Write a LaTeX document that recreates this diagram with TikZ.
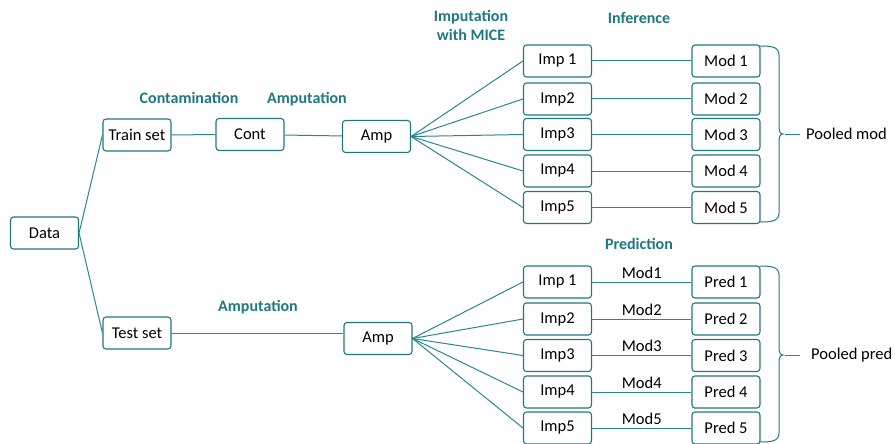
\documentclass[tikz,border=0pt]{standalone}
\usepackage{fontspec}
\setmainfont{Carlito}
\definecolor{tealc}{RGB}{31,120,128}
\definecolor{linec}{RGB}{40,135,142}
\tikzset{
  box/.style={draw=tealc, line width=1.1pt, rounded corners=3pt, minimum width=68pt, minimum height=32pt, inner sep=0pt, font=\fontsize{16.5}{19}\selectfont, text=black},
  head/.style={font=\bfseries\fontsize{16}{19}\selectfont, text=tealc, align=center},
  lbl/.style={font=\fontsize{16.5}{19}\selectfont, text=black},
  conn/.style={draw=linec, line width=1pt},
  brc/.style={draw=tealc, line width=1pt}
}
\begin{document}
\begin{tikzpicture}[x=1pt,y=-1pt]
\useasboundingbox (0,0) rectangle (895,444);
% nodes
\node[box] (data) at (44.5,233) {Data};
\node[box] (train) at (137,135) {Train set};
\node[box] (cont) at (250,134.5) {Cont};
\node[box] (amp1) at (376.5,136.5) {Amp};
\node[box] (test) at (137,333) {Test set};
\node[box] (amp2) at (378,338.5) {Amp};
\foreach \i/\y/\t in {1/61/Imp 1,2/99/Imp2,3/134.5/Imp3,4/171/Imp4,5/207.5/Imp5}{
  \node[box] (ia\i) at (557.5,\y) {\t};
  \node[box] (ma\i) at (726,\y) {Mod \i};
}
\foreach \i/\y/\t in {1/282/Imp 1,2/319/Imp2,3/355.5/Imp3,4/392/Imp4,5/428/Imp5}{
  \node[box] (ib\i) at (557.5,\y) {\t};
  \node[box] (pb\i) at (726,\y) {Pred \i};
}
% headings
\node[head] (hcont) at (189,98) {Contamination};
\node[head] (hamp1) at (307,99) {Amputation};
\node[head, font=\bfseries\fontsize{16}{19}\selectfont] (himp) at (471,25) {Imputation\\with MICE};
\node[head] (hinf) at (639,18) {Inference};
\node[head] (hpred) at (639,244) {Prediction};
\node[head] (hamp2) at (258,307) {Amputation};
% connectors
\draw[conn] (data.east) -- (train.west);
\draw[conn] (data.east) -- (test.west);
\draw[conn] (train) -- (cont);
\draw[conn] (cont) -- (amp1);
\draw[conn] (test.east) -- (test.east -| amp2.west);
\foreach \i in {1,...,5}{
  \draw[conn] (amp1.east) -- (ia\i.west);
  \draw[conn] (ia\i) -- (ma\i);
  \draw[conn] (amp2.east) -- (ib\i.west);
  \draw[conn] (ib\i) -- node[lbl, above=0pt] (ml\i) {Mod\i} (pb\i);
}
% braces
\draw[brc] (760,46) .. controls (772,46) and (779,47) .. (779,55) -- (779,126)
  .. controls (779,131) and (780,134) .. (783,134)
  .. controls (780,134) and (779,137) .. (779,142) -- (779,213)
  .. controls (779,221) and (772,222) .. (760,222);
\draw[brc] (760,266) .. controls (772,266) and (779,267) .. (779,275) -- (779,347)
  .. controls (779,352) and (780,355) .. (783,355)
  .. controls (780,355) and (779,358) .. (779,363) -- (779,433)
  .. controls (779,441) and (772,442) .. (760,442);
\coordinate (tipa) at (785,134);
\coordinate (tipb) at (785,355);
\node[lbl, anchor=west, inner sep=0pt] (pm) at (806,134) {Pooled mod};
\node[lbl, anchor=west, inner sep=0pt] (pp) at (811,355) {Pooled pred};
\draw[conn] (tipa) -- ([xshift=-6pt]pm.west);
\draw[conn] (tipb) -- ([xshift=-11pt]pp.west);
\end{tikzpicture}
\end{document}
